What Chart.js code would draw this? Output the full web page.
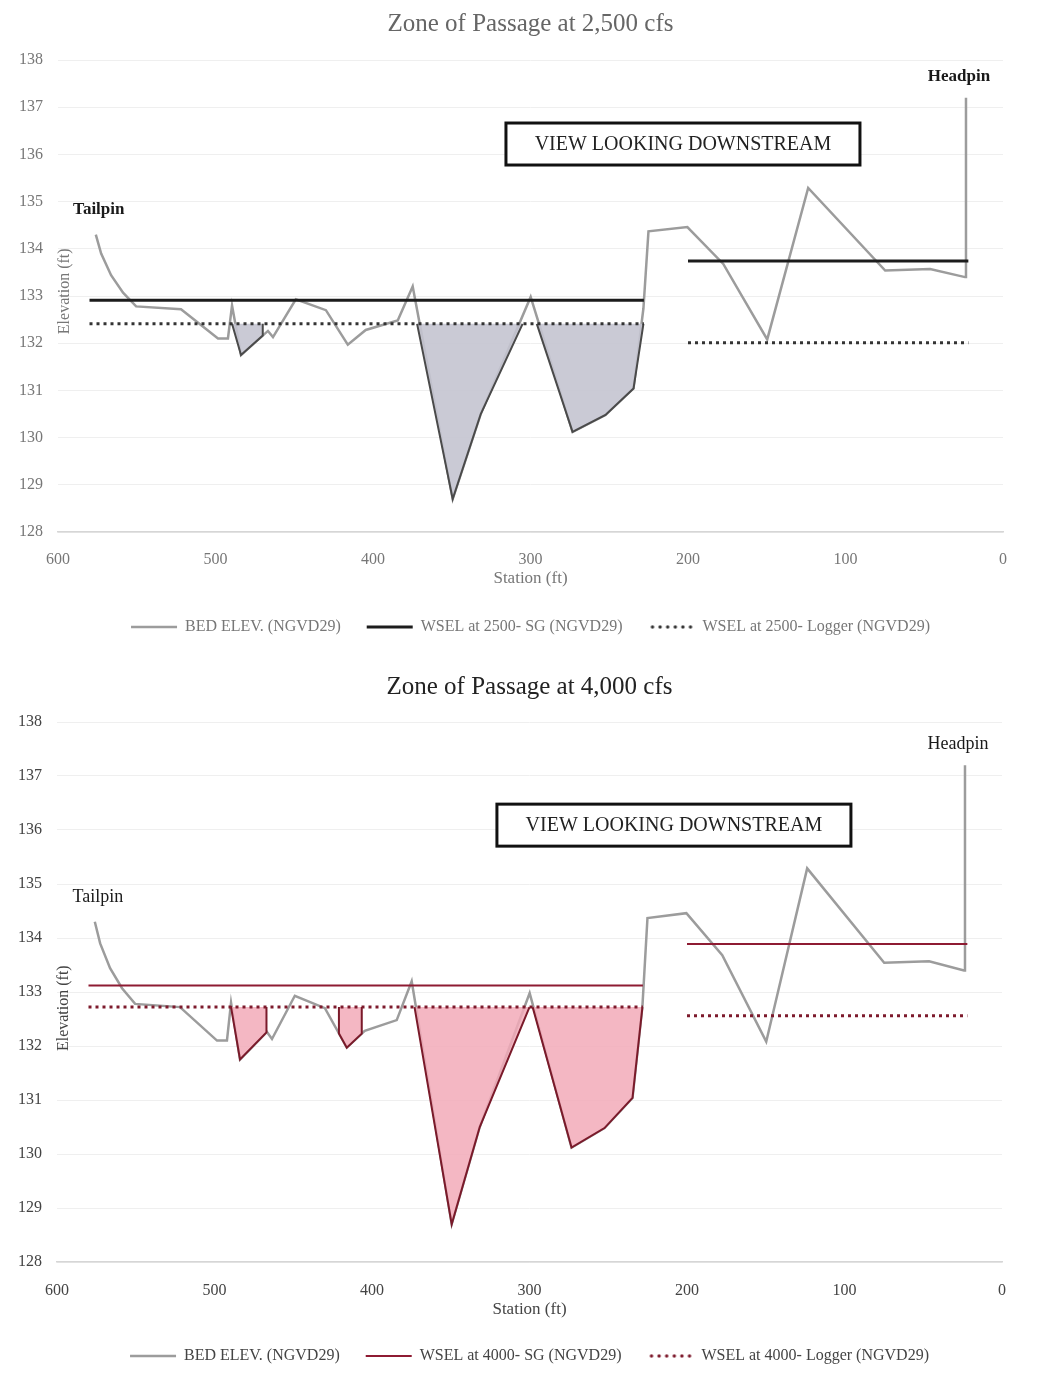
<!DOCTYPE html>
<html>
<head>
<meta charset="utf-8">
<script src="https://cdn.jsdelivr.net/npm/chart.js@4.4.0/dist/chart.umd.min.js"></script>
<style>
  html, body { margin: 0; padding: 0; background: #fff; }
  canvas { display: block; }
</style>
</head>
<body>
<canvas id="zop2500" width="1045" height="655"></canvas>
<canvas id="zop4000" width="1045" height="719"></canvas>
<script>
// bed profile (station ft, elevation ft NGVD29), tailpin -> headpin
const bedStation = [576, 572.6, 566.3, 558.7, 550.4, 521.9, 498.4, 492.1, 489.5, 483.8, 466.7, 463.5, 449, 429.9, 416, 404.6, 384.3, 374.8, 349.4, 331.6, 299.9, 273.3, 252.4, 234.6, 228.3, 225.1, 200.4, 177.6, 149.7, 123.7, 74.8, 46.3, 24.1, 23.5];
const bedElev = [134.3, 133.9, 133.44, 133.07, 132.78, 132.72, 132.1, 132.1, 132.8, 131.75, 132.26, 132.13, 132.93, 132.7, 131.97, 132.28, 132.48, 133.2, 128.7, 130.5, 132.98, 130.12, 130.48, 131.04, 132.74, 134.37, 134.46, 133.68, 132.08, 135.29, 133.54, 133.57, 133.4, 137.2];

// water surface lines: left channel and right channel extents
const wselLeftStation = [580, 228];
const wselRightStation = [200, 22];

// [left, right] water surface elevations
const sg2500 = [132.91, 133.74];
const logger2500 = [132.41, 132.01];
const sg4000 = [133.12, 133.89];
const logger4000 = [132.72, 132.56];

// shaded wet zones (station from, station to)
const wetZones2500 = [[489.5, 470], [372, 305], [296, 228]];
const wetZones4000 = [[489.8, 467], [421, 406.5], [373, 300], [298, 228]];

const elevTicks = [128, 129, 130, 131, 132, 133, 134, 135, 136, 137, 138];
const stationTicks = [0, 100, 200, 300, 400, 500, 600];

const serif = "'Liberation Serif', 'Times New Roman', serif";

function bedAt(s) {
  for (let i = 0; i < bedStation.length - 1; i++) {
    const a = bedStation[i], b = bedStation[i + 1];
    if (s <= a && s >= b) {
      const t = a === b ? 0 : (a - s) / (a - b);
      return bedElev[i] + t * (bedElev[i + 1] - bedElev[i]);
    }
  }
  return null;
}

function wetArea(zones, level) {
  const pts = [];
  zones.forEach(([s0, s1]) => {
    pts.push({x: s0, y: level});
    pts.push({x: s0, y: Math.min(bedAt(s0), level)});
    bedStation.forEach((s, i) => {
      if (s < s0 && s > s1) pts.push({x: s, y: Math.min(bedElev[i], level)});
    });
    pts.push({x: s1, y: Math.min(bedAt(s1), level)});
    pts.push({x: s1, y: level});
    pts.push({x: s1, y: null});
  });
  return pts;
}

// dotted legend sample (legend ignores borderDash with point styles)
function dotSample(color) {
  const c = document.createElement('canvas');
  c.width = 46; c.height = 6;
  const g = c.getContext('2d');
  g.fillStyle = color;
  for (let i = 0; i < 6; i++) {
    g.beginPath();
    g.arc(4 + i * 7.6, 3, 1.7, 0, Math.PI * 2);
    g.fill();
  }
  return c;
}

const notes = {
  id: 'notes',
  afterDatasetsDraw(chart, args, o) {
    const {ctx, chartArea: a, scales: {x, y}} = chart;
    const n = bedStation.length - 1;
    ctx.save();
    ctx.textAlign = 'center';
    ctx.textBaseline = 'middle';
    ctx.fillStyle = '#1a1a1a';
    ctx.font = o.pinFont;
    ctx.fillText('Tailpin', x.getPixelForValue(bedStation[0]) + 3, y.getPixelForValue(bedElev[0]) - 25);
    ctx.fillText('Headpin', x.getPixelForValue(bedStation[n]) - 7, y.getPixelForValue(bedElev[n]) - 21);

    const cx = x.getPixelForValue(o.view[0]);
    const cy = y.getPixelForValue(o.view[1]);
    ctx.fillStyle = '#fff';
    ctx.fillRect(cx - 177, cy - 21, 354, 42);
    ctx.lineWidth = 3;
    ctx.strokeStyle = '#111';
    ctx.strokeRect(cx - 177, cy - 21, 354, 42);
    ctx.fillStyle = '#222';
    ctx.font = '20px ' + serif;
    ctx.fillText('VIEW LOOKING DOWNSTREAM', cx, cy + 1);

    ctx.translate(a.left + 7, y.getPixelForValue(o.yTitleAt));
    ctx.rotate(-Math.PI / 2);
    ctx.fillStyle = o.axisColor;
    ctx.font = '16px ' + serif;
    ctx.fillText('Elevation (ft)', 0, 0);
    ctx.restore();
  }
};

function zoneChart(id, s) {
  const line = (stations, v) => stations.map(x => ({x, y: v}));
  const dots = dotSample(s.loggerColor);
  return new Chart(document.getElementById(id), {
    type: 'line',
    data: {
      datasets: [
        {label: 'BED ELEV. (NGVD29)', data: bedStation.map((x, i) => ({x, y: bedElev[i]})),
          borderColor: '#9c9c9c', borderWidth: 2.5, order: 6},
        {label: s.sgLabel, data: line(wselLeftStation, s.sg[0]),
          borderColor: s.sgColor, borderWidth: s.sgWidth, order: 1},
        {label: s.loggerLabel, data: line(wselLeftStation, s.logger[0]),
          borderColor: s.loggerColor, borderWidth: 3, borderDash: [3, 4], order: 3},
        {label: 'sg right', data: line(wselRightStation, s.sg[1]),
          borderColor: s.sgColor, borderWidth: s.sgWidth, order: 1},
        {label: 'logger right', data: line(wselRightStation, s.logger[1]),
          borderColor: s.loggerColor, borderWidth: 3, borderDash: [3, 4], order: 3},
        {label: 'wet', data: wetArea(s.zones, s.logger[0]), fill: {value: s.logger[0]},
          backgroundColor: s.wetFill, borderColor: s.wetEdge, borderWidth: 2, order: 5}
      ]
    },
    options: {
      responsive: false,
      animation: false,
      elements: {point: {radius: 0}, line: {tension: 0, borderCapStyle: 'butt'}},
      layout: {padding: {left: 0, right: s.padRight, top: 0, bottom: s.padBottom}},
      plugins: {
        title: {display: true, fullSize: false, text: s.title, color: s.titleColor,
          font: {family: serif, size: 25, weight: 'normal'}, padding: {top: s.titlePad[0], bottom: s.titlePad[1]}},
        legend: {position: 'bottom', fullSize: false,
          labels: {usePointStyle: true, pointStyle: 'line', pointStyleWidth: 46, padding: 26,
            color: s.textColor, font: {family: serif, size: 16},
            generateLabels: chart => {
              const items = Chart.defaults.plugins.legend.labels.generateLabels(chart);
              items.forEach(it => { if (it.datasetIndex === 2) it.pointStyle = dots; });
              return items;
            },
            filter: item => item.datasetIndex < 3,
            sort: (a, b) => a.datasetIndex - b.datasetIndex}},
        tooltip: {enabled: false},
        notes: {pinFont: s.pinFont, view: s.view, yTitleAt: s.yTitleAt, axisColor: s.textColor}
      },
      scales: {
        x: {type: 'linear', reverse: true,
          min: stationTicks[0], max: stationTicks[stationTicks.length - 1],
          afterFit: sc => { sc.height = s.xAxisH; },
          grid: {display: false},
          border: {display: true, color: '#d6d6d6', width: 1.5},
          ticks: {stepSize: stationTicks[1] - stationTicks[0], padding: s.xTickPad, color: s.textColor,
            font: {family: serif, size: 16}},
          title: {display: true, text: 'Station (ft)', color: s.textColor,
            font: {family: serif, size: 17}, padding: {top: 0, bottom: s.xTitlePad}}},
        y: {min: elevTicks[0], max: elevTicks[elevTicks.length - 1],
          afterFit: sc => { sc.width = s.yAxisW; },
          grid: {color: '#efefef', drawTicks: false},
          border: {display: false},
          ticks: {stepSize: elevTicks[1] - elevTicks[0], padding: 15, color: s.textColor,
            font: {family: serif, size: 16}}}
      }
    },
    plugins: [notes]
  });
}

zoneChart('zop2500', {
  title: 'Zone of Passage at 2,500 cfs',
  sgLabel: 'WSEL at 2500- SG (NGVD29)',
  loggerLabel: 'WSEL at 2500- Logger (NGVD29)',
  sg: sg2500, logger: logger2500, zones: wetZones2500,
  sgColor: '#1c1c1c', sgWidth: 3, loggerColor: '#333333',
  wetFill: 'rgba(196, 196, 208, 0.9)', wetEdge: '#4a4a4a',
  titleColor: '#666', textColor: '#777',
  pinFont: 'bold 17px ' + serif,
  titlePad: [9, 21], padRight: 42, padBottom: 10,
  yAxisW: 58, xAxisH: 61, xTickPad: 10, xTitlePad: 4,
  view: [203.2, 136.22], yTitleAt: 133.1
});

zoneChart('zop4000', {
  title: 'Zone of Passage at 4,000 cfs',
  sgLabel: 'WSEL at 4000- SG (NGVD29)',
  loggerLabel: 'WSEL at 4000- Logger (NGVD29)',
  sg: sg4000, logger: logger4000, zones: wetZones4000,
  sgColor: '#8e1b32', sgWidth: 2, loggerColor: '#7d1a2c',
  wetFill: 'rgba(242, 170, 184, 0.85)', wetEdge: '#7a1a2a',
  titleColor: '#222', textColor: '#444',
  pinFont: '18px ' + serif,
  titlePad: [17, 20], padRight: 43, padBottom: 0,
  yAxisW: 57, xAxisH: 60, xTickPad: 11, xTitlePad: 2,
  view: [208.3, 136.09], yTitleAt: 132.7
});
</script>
</body>
</html>
